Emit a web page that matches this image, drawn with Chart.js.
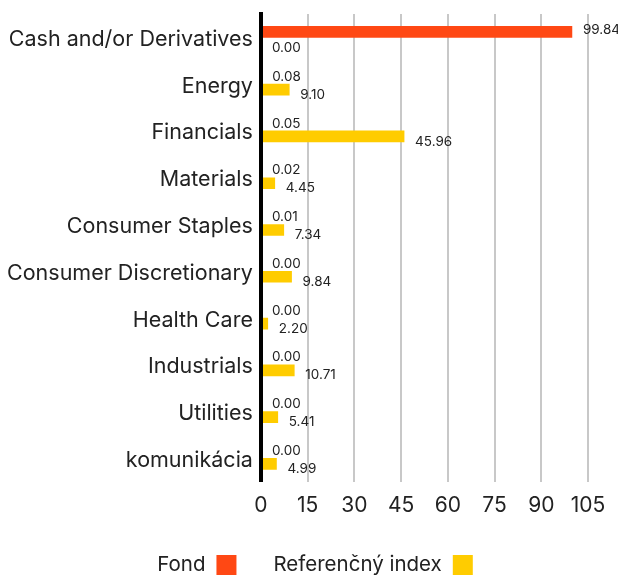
<!DOCTYPE html>
<html>
<head>
<meta charset="utf-8">
<script src="https://cdn.jsdelivr.net/npm/chart.js@4"></script>
<style>
  html, body { margin: 0; padding: 0; background: #fff; }
  #wrap { width: 618px; height: 579px; }
</style>
</head>
<body>
<div id="wrap"><canvas id="sectorChart" width="618" height="579"></canvas></div>
<script>
const sectors = ['Cash and/or Derivatives', 'Energy', 'Financials', 'Materials', 'Consumer Staples',
  'Consumer Discretionary', 'Health Care', 'Industrials', 'Utilities', 'komunikácia'];
const fondValues = [99.84, 0.08, 0.05, 0.02, 0.01, 0.00, 0.00, 0.00, 0.00, 0.00];
const indexValues = [0.00, 9.10, 45.96, 4.45, 7.34, 9.84, 2.20, 10.71, 5.41, 4.99];
const xTicks = [0, 15, 30, 45, 60, 75, 90, 105];

const FONT = 'Inter, "DejaVu Sans", sans-serif';

// value labels next to each bar end
const valueLabels = {
  id: 'valueLabels',
  afterDatasetsDraw(chart) {
    const ctx = chart.ctx;
    ctx.save();
    ctx.font = '13.5px ' + FONT;
    ctx.fillStyle = '#222';
    ctx.textAlign = 'left';
    ctx.textBaseline = 'middle';
    chart.data.datasets.forEach((ds, di) => {
      const meta = chart.getDatasetMeta(di);
      meta.data.forEach((bar, i) => {
        const dy = di === 0 ? -2 : 5;
        ctx.fillText(ds.data[i].toFixed(2), bar.x + 11, bar.y + dy);
      });
    });
    ctx.restore();
  }
};

// legend at the bottom: label text first, colour box after it
const boxLegend = {
  id: 'boxLegend',
  afterDraw(chart) {
    const ctx = chart.ctx;
    const box = 20, gap = 11, itemGap = 37;
    const y = 565;
    ctx.save();
    ctx.font = '20.5px ' + FONT;
    ctx.textBaseline = 'middle';
    ctx.textAlign = 'left';
    const items = chart.data.datasets.map(ds => ({
      text: ds.label, color: ds.backgroundColor, w: ctx.measureText(ds.label).width
    }));
    const total = items.reduce((s, it) => s + it.w + gap + box, 0) + itemGap * (items.length - 1);
    let x = 315 - total / 2;
    items.forEach(it => {
      ctx.fillStyle = '#222';
      ctx.fillText(it.text, x, y);
      x += it.w + gap;
      ctx.fillStyle = it.color;
      ctx.fillRect(x, y - box / 2, box, box);
      x += box + itemGap;
    });
    ctx.restore();
  }
};

new Chart(document.getElementById('sectorChart'), {
  type: 'bar',
  data: {
    labels: sectors,
    datasets: [{
      label: 'Fond',
      data: fondValues,
      backgroundColor: '#FF4814',
      barThickness: 11
    }, {
      label: 'Referenčný index',
      data: indexValues,
      backgroundColor: '#FFCC00',
      barThickness: 11
    }]
  },
  options: {
    indexAxis: 'y',
    responsive: false,
    animation: false,
    layout: { padding: { top: 14, right: 30, left: 7, bottom: 50 } },
    scales: {
      x: {
        min: 0,
        max: 105,
        afterBuildTicks: axis => { axis.ticks = xTicks.map(v => ({ value: v })); },
        grid: { color: '#c8c8c8', lineWidth: 2, drawTicks: false },
        border: { display: false },
        ticks: { color: '#222', font: { family: FONT, size: 21 }, padding: 11 }
      },
      y: {
        afterFit: scale => { scale.paddingTop = 0; scale.paddingBottom = 0; },
        grid: { display: false },
        border: { color: '#000', width: 4, z: 1 },
        ticks: { color: '#222', font: { family: FONT, size: 21.5 }, padding: 0, labelOffset: 2 }
      }
    },
    plugins: {
      legend: { display: false },
      tooltip: { enabled: false }
    }
  },
  plugins: [valueLabels, boxLegend]
});
</script>
</body>
</html>
